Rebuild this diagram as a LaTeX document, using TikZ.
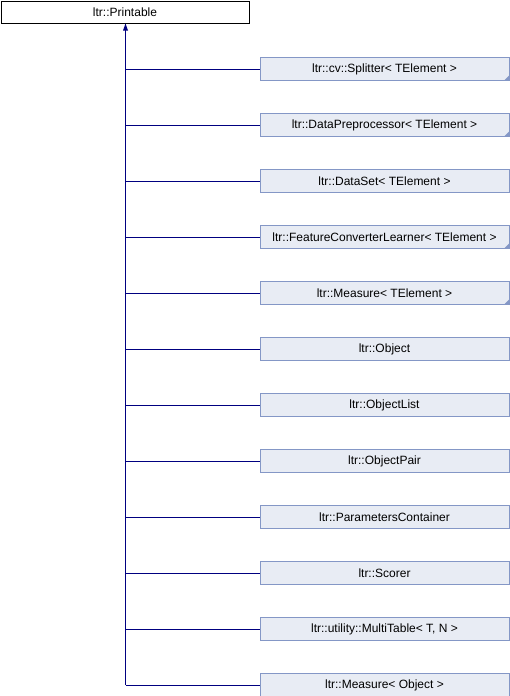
\documentclass[tikz,border=0pt]{standalone}
\usepackage{fontspec}
\setmainfont{Liberation Sans}
\definecolor{edgecol}{HTML}{000080}
\definecolor{boxfill}{HTML}{E8ECF4}
\definecolor{boxline}{HTML}{8497C6}
\begin{document}
\begin{tikzpicture}[x=1pt,y=-1pt,
  topbox/.style={draw=black,fill=white,line width=1pt,minimum width=248pt,minimum height=22pt,inner sep=0pt,font=\fontsize{12}{14}\selectfont},
  childbox/.style={draw=boxline,fill=boxfill,line width=1pt,minimum width=249pt,minimum height=23pt,inner sep=0pt,font=\fontsize{12}{14}\selectfont},
  edge/.style={draw=edgecol,line width=1pt},
  corner/.style={fill=boxline}]
\useasboundingbox (0,0) rectangle (510,696);
\fill[white] (0,0) rectangle (510,696);
\node[topbox] (root) at (125,12) {ltr::Printable};
\foreach \i/\name/\txt/\tmpl in {
 0/c0/{ltr::cv::Splitter< TElement >}/1,
 1/c1/{ltr::DataPreprocessor< TElement >}/1,
 2/c2/{ltr::DataSet< TElement >}/0,
 3/c3/{ltr::FeatureConverterLearner< TElement >}/1,
 4/c4/{ltr::Measure< TElement >}/1,
 5/c5/{ltr::Object}/0,
 6/c6/{ltr::ObjectList}/0,
 7/c7/{ltr::ObjectPair}/0,
 8/c8/{ltr::ParametersContainer}/0,
 9/c9/{ltr::Scorer}/0,
 10/c10/{ltr::utility::MultiTable< T, N >}/0,
 11/c11/{ltr::Measure< Object >}/0}{
  \pgfmathsetmacro{\yy}{69+56*\i}
  \node[childbox] (\name) at (384.5,\yy) {\txt};
  \coordinate (j\name) at (125.5,\yy);
  \draw[edge] (j\name) -- (\name.west);
  \ifnum\tmpl=1
    \fill[corner] ([xshift=-0.5pt,yshift=0.5pt]\name.south east) -- ++(-5,0) -- ++(5,-5) -- cycle;
  \fi
}
\draw[edge] (jc11) -- (125.5,30);
\fill[edgecol] (root.south -| 125.5,0) ++(0,0) -- ++(-2.5,7) -- ++(5,0) -- cycle;
\end{tikzpicture}
\end{document}
